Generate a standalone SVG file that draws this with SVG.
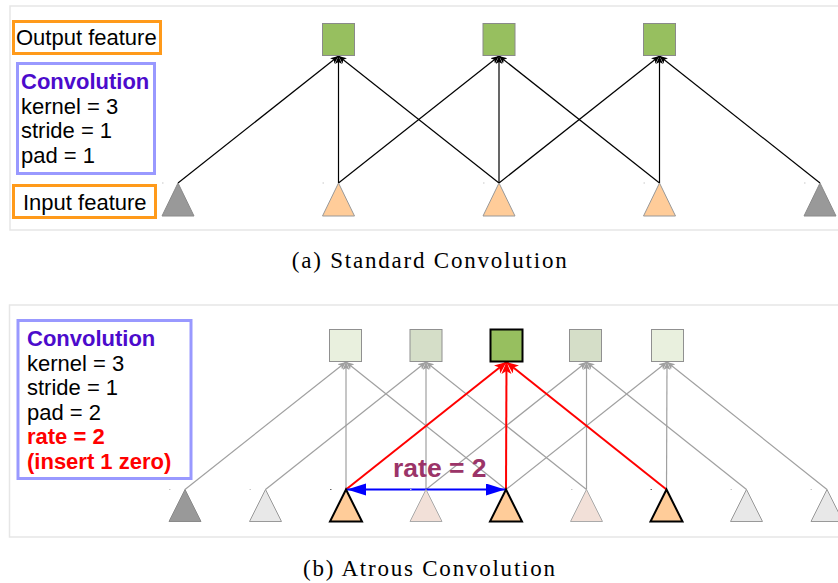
<svg xmlns="http://www.w3.org/2000/svg" width="838" height="583" viewBox="0 0 838 583">
  <defs>
    <marker id="arrBlack" markerUnits="userSpaceOnUse" markerWidth="9" markerHeight="8" refX="8" refY="3.5" orient="auto">
      <path d="M0,0 L8,3.5 L0,7 L2,3.5 Z" fill="#000"/>
    </marker>
    <marker id="arrGray" markerUnits="userSpaceOnUse" markerWidth="9" markerHeight="8" refX="8" refY="3.5" orient="auto">
      <path d="M0,0 L8,3.5 L0,7 L2,3.5 Z" fill="#a0a0a0"/>
    </marker>
    <marker id="arrRed" markerUnits="userSpaceOnUse" markerWidth="13" markerHeight="11" refX="12" refY="5" orient="auto">
      <path d="M0,0 L12,5 L0,10 L3,5 Z" fill="#ff0000"/>
    </marker>
    <marker id="arrBlue" markerUnits="userSpaceOnUse" markerWidth="20" markerHeight="13" refX="19" refY="6" orient="auto-start-reverse">
      <path d="M0,0 L19,6 L0,12 Z" fill="#0000ff"/>
    </marker>
  </defs>
  <style>
    .frame { fill: #fff; stroke: #e6e6e6; stroke-width: 1.5; }
    .lbl { font-family: "Liberation Sans", Arial, sans-serif; font-size: 22px; fill: #000; }
    .title { font-weight: bold; fill: #4c0bcc; }
    .red { font-weight: bold; fill: #ff0000; }
    .obox { fill: #fff; stroke: #ff9a1a; stroke-width: 3; }
    .cbox { fill: #fff; stroke: #9999ff; stroke-width: 3; }
    .cap { font-family: "Liberation Serif", "Times New Roman", serif; font-size: 23px; fill: #000; }
    .out { fill: #97bf5f; stroke: #8a8a8a; stroke-width: 1; }
    .tri-gray { fill: #999999; stroke: #8a8a8a; stroke-width: 1; }
    .tri-org { fill: #ffcc99; stroke: #999999; stroke-width: 1; }
    .tri-light { fill: #e8e8e8; stroke: #999999; stroke-width: 1; }
    .tri-pink { fill: #f2e0d8; stroke: #aaaaaa; stroke-width: 1; }
    .tri-bold { fill: #ffcc99; stroke: #000; stroke-width: 2; }
    .sq-pale { fill: #e9f0de; stroke: #909090; stroke-width: 1; }
    .sq-mid { fill: #d5dec8; stroke: #909090; stroke-width: 1; }
    .sq-main { fill: #97bf5f; stroke: #000; stroke-width: 2; }
    .blk { stroke: #000; stroke-width: 1.2; fill: none; marker-end: url(#arrBlack); }
    .gry { stroke: #a0a0a0; stroke-width: 1.2; fill: none; marker-end: url(#arrGray); }
    .rd { stroke: #ff0000; stroke-width: 2; fill: none; marker-end: url(#arrRed); }
    .dot { fill: #c8c8c8; }
  </style>

  <!-- panel (a): standard convolution -->
  <rect class="frame" x="10" y="6" width="840" height="224"/>

  <g id="legend-a">
    <g id="output-label">
      <rect class="obox" x="13.5" y="21.5" width="147" height="32"/>
      <text class="lbl" x="16" y="45">Output feature</text>
    </g>
    <g id="conv-params-a">
      <rect class="cbox" x="17.5" y="63.5" width="137" height="110"/>
      <text class="lbl title" x="21" y="89">Convolution</text>
      <text class="lbl" x="21" y="113.7">kernel = 3</text>
      <text class="lbl" x="21" y="138.4">stride = 1</text>
      <text class="lbl" x="21" y="163">pad = 1</text>
    </g>
    <g id="input-label">
      <rect class="obox" x="13.5" y="185.5" width="142" height="32"/>
      <text class="lbl" x="23" y="210">Input feature</text>
    </g>
  </g>

  <g id="connectors-a">
    <line class="blk" x1="178" y1="183" x2="338.5" y2="56"/>
    <line class="blk" x1="338.5" y1="183" x2="338.5" y2="56"/>
    <line class="blk" x1="499" y1="183" x2="338.5" y2="56"/>
    <line class="blk" x1="338.5" y1="183" x2="499" y2="56"/>
    <line class="blk" x1="499" y1="183" x2="499" y2="56"/>
    <line class="blk" x1="659.5" y1="183" x2="499" y2="56"/>
    <line class="blk" x1="499" y1="183" x2="659.5" y2="56"/>
    <line class="blk" x1="659.5" y1="183" x2="659.5" y2="56"/>
    <line class="blk" x1="820" y1="183" x2="659.5" y2="56"/>
  </g>

  <g id="out-a1"><rect class="out" x="322.5" y="23.5" width="32" height="32"/></g>
  <g id="out-a2"><rect class="out" x="483" y="23.5" width="32" height="32"/></g>
  <g id="out-a3"><rect class="out" x="643.5" y="23.5" width="32" height="32"/></g>

  <g id="in-a0"><rect class="dot" x="162" y="182.5" width="1.5" height="1"/><polygon class="tri-gray" points="178,183 194,216 162,216"/></g>
  <g id="in-a1"><rect class="dot" x="322.5" y="182.5" width="1.5" height="1"/><polygon class="tri-org" points="338.5,183 354.5,216 322.5,216"/></g>
  <g id="in-a2"><rect class="dot" x="483" y="182.5" width="1.5" height="1"/><polygon class="tri-org" points="499,183 515,216 483,216"/></g>
  <g id="in-a3"><rect class="dot" x="643.5" y="182.5" width="1.5" height="1"/><polygon class="tri-org" points="659.5,183 675.5,216 643.5,216"/></g>
  <g id="in-a4"><rect class="dot" x="804" y="182.5" width="1.5" height="1"/><polygon class="tri-gray" points="820,183 836,216 804,216"/></g>

  <text class="cap" x="291.7" y="268" textLength="275" lengthAdjust="spacing">(a) Standard Convolution</text>

  <!-- panel (b): atrous convolution -->
  <rect class="frame" x="9.5" y="305" width="840" height="232"/>

  <g id="conv-params-b">
    <rect class="cbox" x="18" y="320.5" width="173" height="158"/>
    <text class="lbl title" x="27" y="346">Convolution</text>
    <text class="lbl" x="27" y="370.6">kernel = 3</text>
    <text class="lbl" x="27" y="395.2">stride = 1</text>
    <text class="lbl" x="27" y="419.8">pad = 2</text>
    <text class="lbl red" x="27" y="444.4">rate = 2</text>
    <text class="lbl red" x="27" y="469">(insert 1 zero)</text>
  </g>

  <g id="connectors-b">
    <!-- gray receptive-field links -->
    <line class="gry" x1="185" y1="489.5" x2="346" y2="362"/>
    <line class="gry" x1="346" y1="489.5" x2="346" y2="362"/>
    <line class="gry" x1="506" y1="489.5" x2="346" y2="362"/>
    <line class="gry" x1="265.5" y1="489.5" x2="426" y2="362"/>
    <line class="gry" x1="426" y1="489.5" x2="426" y2="362"/>
    <line class="gry" x1="586.5" y1="489.5" x2="426" y2="362"/>
    <line class="gry" x1="426" y1="489.5" x2="586.5" y2="362"/>
    <line class="gry" x1="586.5" y1="489.5" x2="586.5" y2="362"/>
    <line class="gry" x1="746.5" y1="489.5" x2="586.5" y2="362"/>
    <line class="gry" x1="506" y1="489.5" x2="667" y2="362"/>
    <line class="gry" x1="666.5" y1="489.5" x2="667" y2="362"/>
    <line class="gry" x1="827" y1="489.5" x2="667" y2="362"/>
    <!-- highlighted kernel taps -->
    <line class="rd" x1="346" y1="489.5" x2="506.5" y2="362"/>
    <line class="rd" x1="506" y1="489.5" x2="506.5" y2="362"/>
    <line class="rd" x1="666.5" y1="489.5" x2="506.5" y2="362"/>
    <!-- dilation span -->
    <line x1="347" y1="489.5" x2="505" y2="489.5" stroke="#0000ff" stroke-width="2" marker-start="url(#arrBlue)" marker-end="url(#arrBlue)"/>
  </g>

  <text x="393" y="476.5" font-family="Liberation Sans, Arial, sans-serif" font-size="26.5" font-weight="bold" fill="#9b3468">rate = 2</text>

  <g id="out-b1"><rect class="sq-pale" x="329.5" y="329.5" width="32" height="32"/></g>
  <g id="out-b2"><rect class="sq-mid" x="410" y="329.5" width="32" height="32"/></g>
  <g id="out-b3"><rect class="sq-main" x="490.5" y="329.5" width="32" height="32"/></g>
  <g id="out-b4"><rect class="sq-mid" x="569.5" y="329.5" width="32" height="32"/></g>
  <g id="out-b5"><rect class="sq-pale" x="651.5" y="329.5" width="32" height="32"/></g>

  <g id="in-b0"><rect class="dot" x="169" y="489" width="1.5" height="1"/><polygon class="tri-gray" points="185,489.5 201,521.5 169,521.5"/></g>
  <g id="in-b1"><rect class="dot" x="249.5" y="489" width="1.5" height="1"/><polygon class="tri-light" points="265.5,489.5 281.5,521.5 249.5,521.5"/></g>
  <g id="in-b2"><rect x="330" y="489" width="1.5" height="1" fill="#666"/><polygon class="tri-bold" points="346,489.5 362,521.5 330,521.5"/></g>
  <g id="in-b3"><rect class="dot" x="410" y="489" width="1.5" height="1"/><polygon class="tri-pink" points="426,489.5 442,521.5 410,521.5"/></g>
  <g id="in-b4"><polygon class="tri-bold" points="506,489.5 522,521.5 490,521.5"/></g>
  <g id="in-b5"><rect class="dot" x="571" y="489" width="1.5" height="1"/><polygon class="tri-pink" points="586.5,489.5 602.5,521.5 570.5,521.5"/></g>
  <g id="in-b6"><rect x="650.5" y="489" width="1.5" height="1" fill="#666"/><polygon class="tri-bold" points="666.5,489.5 682.5,521.5 650.5,521.5"/></g>
  <g id="in-b7"><rect class="dot" x="730.5" y="489" width="1.5" height="1"/><polygon class="tri-light" points="746.5,489.5 762.5,521.5 730.5,521.5"/></g>
  <g id="in-b8"><rect class="dot" x="810.5" y="489" width="1.5" height="1"/><polygon class="tri-light" points="827,489.5 843,521.5 811,521.5"/></g>

  <text class="cap" x="303" y="576" textLength="252" lengthAdjust="spacing">(b) Atrous Convolution</text>
</svg>
